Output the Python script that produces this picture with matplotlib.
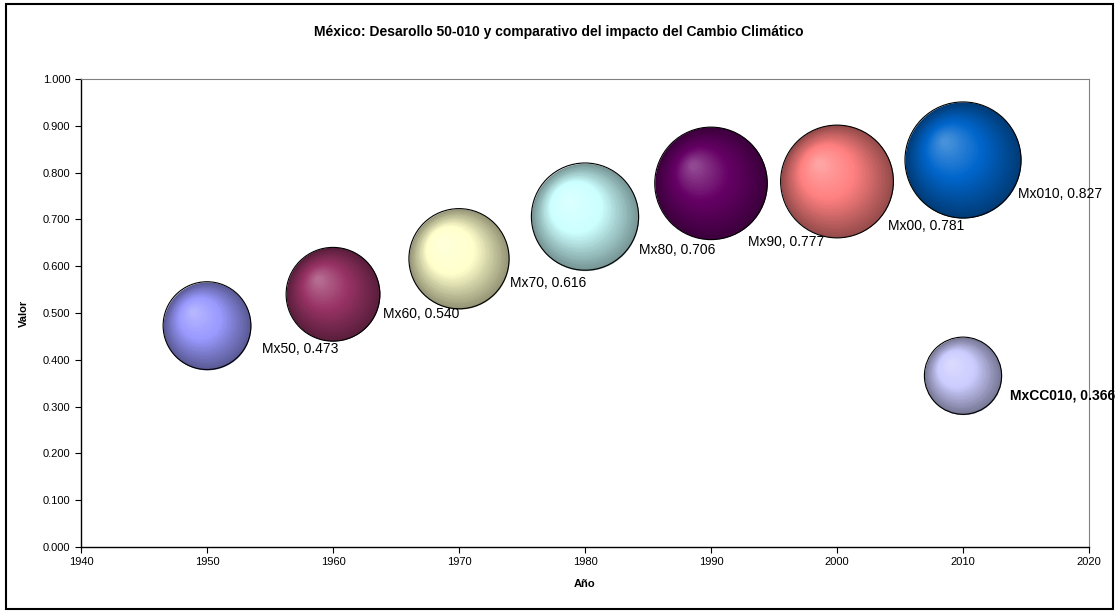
import matplotlib.pyplot as plt
import numpy as np
from matplotlib.transforms import offset_copy
from matplotlib.colors import to_rgb
from matplotlib.patches import Rectangle

plt.rcParams['font.family'] = ['Liberation Sans', 'DejaVu Sans']

# datos de la grafica de burbujas
nombres = ['Mx50', 'Mx60', 'Mx70', 'Mx80', 'Mx90', 'Mx00', 'Mx010', 'MxCC010']
anios = [1950, 1960, 1970, 1980, 1990, 2000, 2010, 2010]
valores = [0.473, 0.540, 0.616, 0.706, 0.777, 0.781, 0.827, 0.366]
tamanos = [0.473, 0.540, 0.616, 0.706, 0.777, 0.781, 0.827, 0.366]

# colores base de cada serie
colores = ['#9999ff', '#993366', '#ffffcc', '#ccffff', '#660066', '#ff8080', '#0066cc', '#ccccff']

# posicion de cada etiqueta (px respecto al centro)
desp = [(55, -23), (50, -20), (51, -24), (54, -33), (37, -59), (51, -45), (55, -34), (47, -20)]


def tono(base, t):
    # borde oscuro -> color base -> brillo
    base = np.array(to_rgb(base))
    oscuro = base*0.58
    claro = base + 0.28*(1 - base)
    if t < 0.55:
        w = t/0.55
        return oscuro*(1-w) + base*w
    w = (t - 0.55)/0.45
    return base*(1-w) + claro*w


fig = plt.figure(figsize=(11.17, 6.12), dpi=100)
ax = fig.add_axes([81/1117, 65/612, 1008/1117, 468/612])
ax.set_xlim(1940, 2020)
ax.set_ylim(0, 1)

escala = 8443.0
N = 40
for i in range(len(nombres)):
    x, y = anios[i], valores[i]
    r = 0.5*np.sqrt(escala*tamanos[i])
    for k in range(N):
        t = k/(N-1)
        f = 1 - 0.93*t
        dx = -0.34*r*(1-f)
        dy = 0.34*r*(1-f)
        tr = offset_copy(ax.transData, fig=fig, x=dx, y=dy, units='points')
        ax.scatter([x], [y], s=(2*f*r)**2, color=tono(colores[i], t), transform=tr,
                   linewidths=0, zorder=3+i+k*0.001, clip_on=False)
    ax.scatter([x], [y], s=(2*r)**2, facecolors='none', edgecolors='black',
               linewidths=0.8, zorder=3.9+i, clip_on=False)
    peso = 'bold' if nombres[i] == 'MxCC010' else 'normal'
    ax.annotate('%s, %.3f' % (nombres[i], valores[i]), (x, y),
                xytext=(desp[i][0]*0.72, desp[i][1]*0.72), textcoords='offset points',
                ha='left', va='center', fontsize=10, fontweight=peso, zorder=20,
                annotation_clip=False)

ax.set_xticks(np.arange(1940, 2021, 10))
ax.set_yticks(np.arange(0, 1.001, 0.1))
ax.set_yticklabels(['%.3f' % v for v in np.arange(0, 1.001, 0.1)])
ax.tick_params(labelsize=8, direction='out', length=4, width=0.8, colors='black')
ax.tick_params(axis='x', pad=3)
for s in ['top', 'right']:
    ax.spines[s].set_color('#808080')
    ax.spines[s].set_linewidth(0.8)
for s in ['left', 'bottom']:
    ax.spines[s].set_color('black')
    ax.spines[s].set_linewidth(1.0)

ax.set_xlabel('Año', fontsize=8, fontweight='bold', labelpad=9)
ax.set_ylabel('Valor', fontsize=8, fontweight='bold', labelpad=10)
fig.text(0.5, 1 - 32/612, 'México: Desarollo 50-010 y comparativo del impacto del Cambio Climático',
         ha='center', va='center', fontsize=10, fontweight='bold')

# marco exterior del grafico
fig.patches.append(Rectangle((6/1117, 3/612), 1107/1117, 605/612, transform=fig.transFigure,
                             fill=False, edgecolor='black', linewidth=1.5))

plt.savefig('out.png', dpi=100)
